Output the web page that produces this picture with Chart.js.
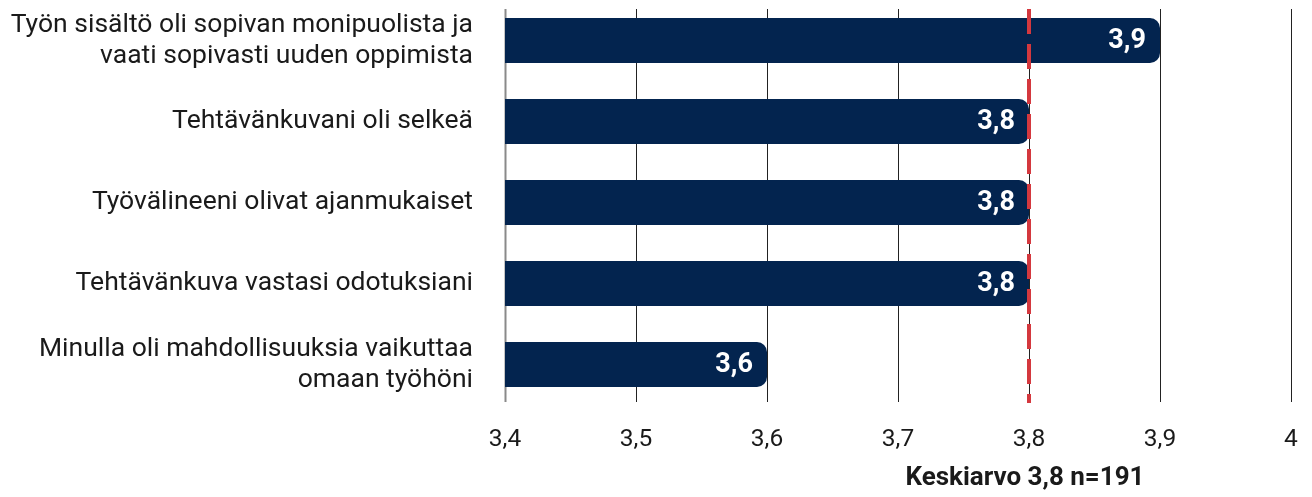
<!DOCTYPE html>
<html>
<head>
<meta charset="utf-8">
<script src="https://cdn.jsdelivr.net/npm/chart.js@4"></script>
<style>
  html, body { margin: 0; padding: 0; background: #fff; }
  canvas { display: block; }
</style>
</head>
<body>
<canvas id="chart" width="1312" height="497"></canvas>
<script>
// Kysymykset (monirivisinä) ja keskiarvot
const kysymykset = [
  ["Työn sisältö oli sopivan monipuolista ja", "vaati sopivasti uuden oppimista"],
  "Tehtävänkuvani oli selkeä",
  "Työvälineeni olivat ajanmukaiset",
  "Tehtävänkuva vastasi odotuksiani",
  ["Minulla oli mahdollisuuksia vaikuttaa", "omaan työhöni"]
];
const keskiarvot = [3.9, 3.8, 3.8, 3.8, 3.6];
const kokonaisKeskiarvo = 3.8;
const vastaajat = 191;
const xMin = 3.4;
const xMax = 4;

const pilkku = (v) => String(Math.round(v * 10) / 10).replace(".", ",");

// Pystyviivat, keskiarvoviiva, arvot ja otsikko
const piirrot = {
  id: "piirrot",
  beforeDatasetsDraw(chart) {
    const { ctx, chartArea, scales } = chart;
    const x = scales.x;
    ctx.save();
    x.ticks.forEach((t, i) => {
      const px = Math.round(x.getPixelForValue(t.value)) + 0.5;
      ctx.beginPath();
      ctx.strokeStyle = i === 0 ? "#8a8a8a" : "#222";
      ctx.lineWidth = i === 0 ? 2 : 1;
      ctx.moveTo(px, chartArea.top + 9);
      ctx.lineTo(px, chartArea.bottom - 3);
      ctx.stroke();
    });
    ctx.restore();
  },
  afterDatasetsDraw(chart) {
    const { ctx, chartArea, scales } = chart;
    const meta = chart.getDatasetMeta(0);
    ctx.save();
    // arvot palkkien päähän
    ctx.fillStyle = "#fff";
    ctx.font = "bold 27px Roboto";
    ctx.textAlign = "right";
    ctx.textBaseline = "middle";
    meta.data.forEach((bar, i) => {
      ctx.fillText(pilkku(keskiarvot[i]), bar.x - 14, bar.y + 1);
    });
    // keskiarvoviiva
    const mx = scales.x.getPixelForValue(kokonaisKeskiarvo);
    ctx.beginPath();
    ctx.strokeStyle = "#d4383e";
    ctx.lineWidth = 4;
    ctx.setLineDash([25, 10]);
    ctx.moveTo(mx, chartArea.top + 9);
    ctx.lineTo(mx, chartArea.bottom - 2);
    ctx.stroke();
    ctx.setLineDash([]);
    // otsikko
    ctx.fillStyle = "#1a1a1a";
    ctx.font = "bold 26px Roboto";
    ctx.textAlign = "center";
    ctx.fillText("Keskiarvo " + pilkku(kokonaisKeskiarvo) + " n=" + vastaajat, mx - 4, 478);
    ctx.restore();
  }
};

new Chart(document.getElementById("chart").getContext("2d"), {
  type: "bar",
  data: {
    labels: kysymykset,
    datasets: [
      {
        data: keskiarvot,
        backgroundColor: "#03244f",
        borderRadius: 10,
        borderSkipped: "start",
        barPercentage: 0.556,
        categoryPercentage: 1,
      },
    ],
  },
  options: {
    indexAxis: "y",
    responsive: false,
    animation: false,
    events: [],
    layout: { padding: { top: 0, right: 21, left: 0, bottom: 0 } },
    plugins: {
      legend: { display: false },
      tooltip: { enabled: false },
    },
    scales: {
      x: {
        min: xMin,
        max: xMax,
        grid: { display: false },
        border: { display: false },
        ticks: {
          stepSize: 0.1,
          padding: 12,
          color: "#1a1a1a",
          font: { family: "Roboto", size: 24.5 },
          callback: (v) => pilkku(v),
        },
        afterFit: (s) => {
          s.height = 92;
          s.paddingLeft = 0;
          s.paddingRight = 0;
        },
      },
      y: {
        grid: { display: false, drawTicks: false },
        border: { display: false },
        ticks: {
          padding: 32,
          color: "#1a1a1a",
          font: { family: "Roboto", size: 26.5, lineHeight: 1.17 },
        },
        afterFit: (s) => {
          s.width = 505;
          s.paddingTop = 0;
          s.paddingBottom = 0;
        },
      },
    },
  },
  plugins: [piirrot],
});
</script>
</body>
</html>
